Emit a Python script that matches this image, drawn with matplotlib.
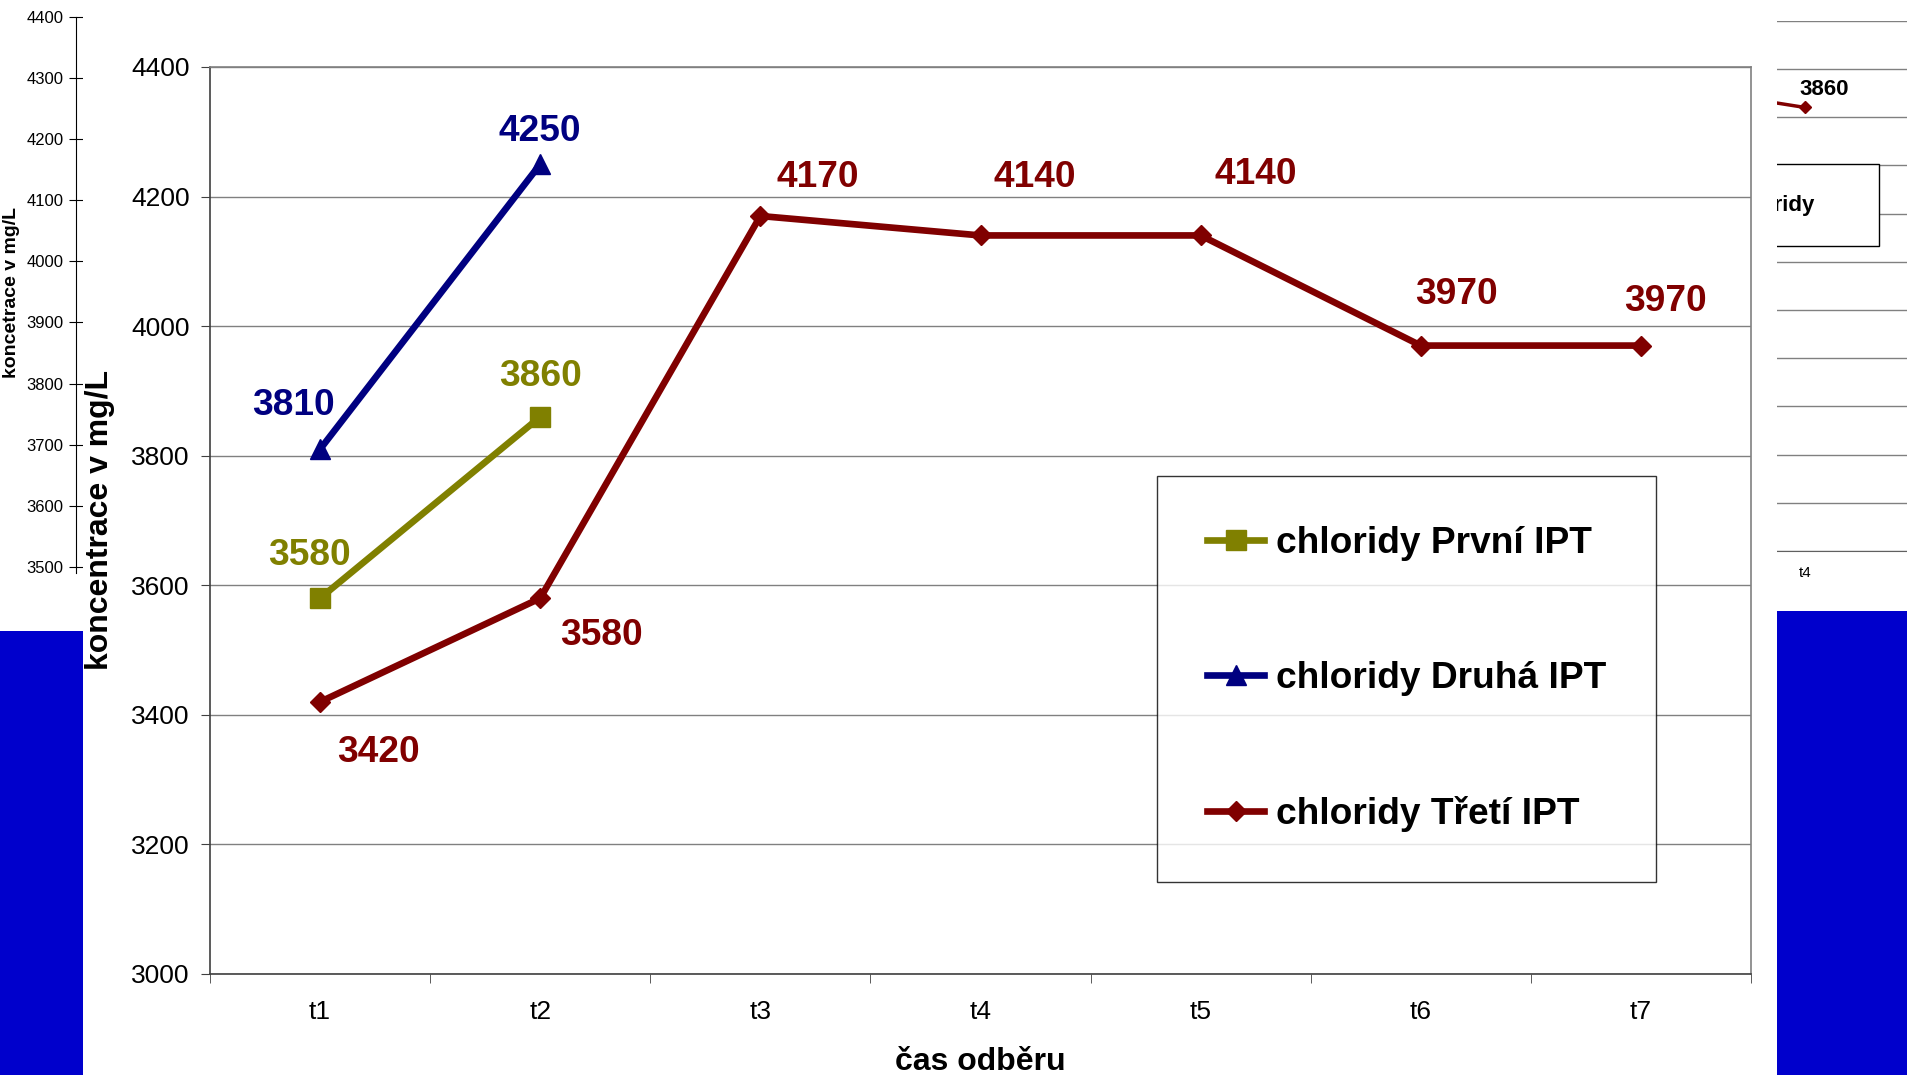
import matplotlib.pyplot as plt
from matplotlib.patches import Rectangle

plt.rcParams['font.family'] = ['Liberation Sans', 'DejaVu Sans']

# odbery a namerene chloridy (mg/L)
odbery = ['t1', 't2', 't3', 't4', 't5', 't6', 't7']
prvni_ipt = [3580, 3860]
druha_ipt = [3810, 4250]
treti_ipt = [3420, 3580, 4170, 4140, 4140, 3970, 3970]

# starsi graf vzadu vpravo - je videt jen kousek mezi t3 a t4
zadni_odbery = ['t3', 't4']
zadni_chloridy = [3880, 3860]

# posun popisku hodnot (v bodech) od znacky
posun_prvni = [(-8, 24), (0, 22)]
posun_druha = [(-19, 25), (0, 17)]
posun_treti = [(42, -43), (44, -34), (41, 21), (39, 35), (40, 37), (26, 30), (18, 25)]

W, H = 1907, 1075
fig = plt.figure(figsize=(W / 100, H / 100), dpi=100)


def box(x0, y0, x1, y1):
    return [x0 / W, 1 - y1 / H, (x1 - x0) / W, (y1 - y0) / H]


# --- starsi graf vlevo (vidi se jen osa y) ---
ax_l = fig.add_axes(box(76, 17, 700, 573), zorder=0)
ax_l.set_yticks(range(3500, 4401, 100))
ax_l.set_xticks([])
ax_l.set_ylim(3490, 4400)
for s in ['top', 'right', 'bottom']:
    ax_l.spines[s].set_visible(False)
ax_l.spines['left'].set_color('black')
ax_l.tick_params(axis='y', direction='inout', length=10, labelsize=12, pad=4)
fig.text(12 / W, 1 - 292 / H, 'koncetrace v mg/L', rotation=90, ha='center', va='center',
         fontsize=14, fontweight='bold', zorder=0)

# --- starsi graf vpravo ---
ax_r = fig.add_axes(box(1777, 20.7, 1907, 551), zorder=0)
ax_r.set_yticks(range(3400, 3951, 50))
ax_r.set_xticks(range(1, len(odbery) + 1))
ax_r.set_xticklabels(odbery)
ax_r.set_ylim(3400, 3950)
ax_r.set_xlim(3.77, 3.77 + 130 / 122)
ax_r.tick_params(axis='both', length=0, labelleft=False, labelsize=11, pad=11)
ax_r.grid(axis='y', color='#808080', lw=1)
for s in ['top', 'right', 'left']:
    ax_r.spines[s].set_visible(False)
ax_r.spines['bottom'].set_color('#606060')
zx = [odbery.index(t) + 1 for t in zadni_odbery]
ax_r.plot(zx, zadni_chloridy, color='#800000', lw=2.5, marker='D', ms=6, zorder=3)
ax_r.annotate(str(zadni_chloridy[-1]), (zx[-1], zadni_chloridy[-1]), xytext=(14, 9),
              textcoords='offset points', ha='center', va='baseline', fontsize=16,
              fontweight='bold', color='black')
ax_r.add_patch(Rectangle((-1, 0.575), 1.785, 0.155, transform=ax_r.transAxes,
                         facecolor='white', edgecolor='black', lw=1, zorder=4))
ax_r.text(0.292, 0.651, 'chloridy', transform=ax_r.transAxes, ha='right', va='center',
          fontsize=16, fontweight='bold', zorder=5)

# bile pozadi hlavniho grafu a modre okraje snimku
fig.add_artist(Rectangle((83 / W, 0), (1777 - 83) / W, 1, transform=fig.transFigure,
                         facecolor='white', edgecolor='none', zorder=1))
fig.add_artist(Rectangle((0, 0), 83 / W, (H - 631) / H, transform=fig.transFigure,
                         facecolor='#0000CC', edgecolor='none', zorder=1))
fig.add_artist(Rectangle((1777 / W, 0), 130 / W, (H - 611) / H, transform=fig.transFigure,
                         facecolor='#0000CC', edgecolor='none', zorder=1))

# --- hlavni graf ---
ax = fig.add_axes(box(210, 67, 1751, 974), zorder=2)
x = list(range(1, len(odbery) + 1))

series = [
    (prvni_ipt, '#808000', 's', 14, 'chloridy První IPT', posun_prvni),
    (druha_ipt, '#000080', '^', 15, 'chloridy Druhá IPT', posun_druha),
    (treti_ipt, '#800000', 'D', 10, 'chloridy Třetí IPT', posun_treti),
]
for vals, c, m, ms, name, posun in series:
    xs = x[:len(vals)]
    ax.plot(xs, vals, color=c, lw=4.8, marker=m, ms=ms, label=name, zorder=3)
    for xi, v, off in zip(xs, vals, posun):
        ax.annotate(str(v), (xi, v), xytext=off, textcoords='offset points',
                    ha='center', va='baseline', fontsize=26.7, fontweight='bold', color=c)

ax.set_yticks(range(3000, 4401, 200))
ax.set_xticks(x)
ax.set_xticklabels(odbery)
ax.set_xticks([i + 0.5 for i in range(len(odbery) + 1)], minor=True)
ax.set_xlim(0.5, len(odbery) + 0.5)
ax.set_ylim(3000, 4400)
ax.tick_params(axis='x', which='major', length=0, labelsize=19, pad=19)
ax.tick_params(axis='x', which='minor', length=6.5, color='#404040')
ax.tick_params(axis='y', length=6.5, labelsize=19, pad=8, color='#404040')
ax.grid(axis='y', color='#808080', lw=1)
ax.set_axisbelow(True)
for s in ['left', 'bottom']:
    ax.spines[s].set_color('#404040')
    ax.spines[s].set_linewidth(1.2)
for s in ['top', 'right']:
    ax.spines[s].set_color('#808080')
    ax.spines[s].set_linewidth(1.2)

leg = ax.legend(loc='upper left', bbox_to_anchor=(0.6145, 0.549), borderaxespad=0,
                prop={'weight': 'bold', 'size': 26.7}, frameon=True,
                fancybox=False, borderpad=1.35, labelspacing=2.7, handlelength=1.55,
                handletextpad=0.3, numpoints=1)
leg.get_frame().set_edgecolor('black')
leg.get_frame().set_linewidth(1)

fig.text(100 / W, 1 - 520 / H, 'koncentrace v mg/L', rotation=90, ha='center', va='center',
         fontsize=23, fontweight='bold', zorder=3)
fig.text(980 / W, 1 - 1062 / H, 'čas odběru', ha='center', va='center',
         fontsize=23, fontweight='bold', zorder=3)

fig.savefig('out.png', dpi=100)
